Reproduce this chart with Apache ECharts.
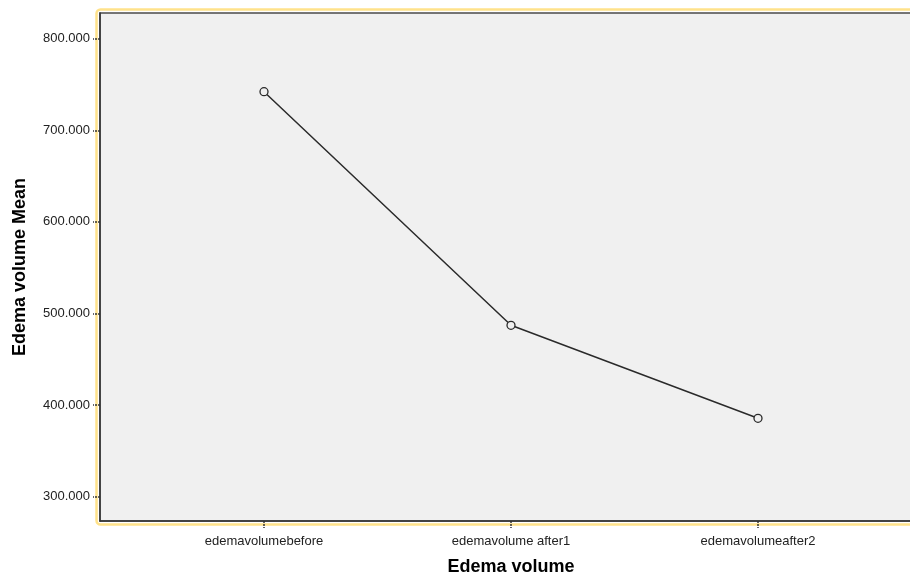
<!DOCTYPE html>
<html>
<head>
<meta charset="utf-8">
<script src="https://cdn.jsdelivr.net/npm/echarts@6/dist/echarts.min.js"></script>
<style>html,body{margin:0;padding:0;background:#fff}#c{width:910px;height:576px}</style>
</head>
<body>
<div id="c"></div>
<script>
var categories = ['edemavolumebefore', 'edemavolume after1', 'edemavolumeafter2'];
var meanValues = [742.1, 487.1, 385.6];
var yTicks = [300, 400, 500, 600, 700, 800];

var chart = echarts.init(document.getElementById('c'));
var font = 'Liberation Sans, Arial, sans-serif';
chart.setOption({
  animation: false,
  backgroundColor: '#ffffff',
  graphic: [{
    type: 'rect',
    shape: {x: 96.5, y: 9.5, width: 830, height: 515, r: 4},
    style: {fill: 'none', stroke: '#ffe28a', lineWidth: 2.5},
    z: -1
  }],
  grid: {
    left: 100, top: 13, right: -12, bottom: 55,
    outerBoundsMode: 'none', containLabel: false,
    show: true, backgroundColor: '#f0f0f0', borderColor: '#4a4a4a', borderWidth: 1.5
  },
  xAxis: {
    type: 'value',
    min: -0.664, max: 2.664,
    name: 'Edema volume',
    nameLocation: 'middle',
    nameGap: 37,
    nameTextStyle: {fontFamily: font, fontSize: 18, fontWeight: 'bold', color: '#000'},
    axisLine: {show: true, onZero: false, lineStyle: {color: '#333', width: 1.5}},
    splitLine: {show: false},
    axisTick: {show: true, customValues: [0, 1, 2], length: 7, inside: false, lineStyle: {color: '#333', width: 1.5, type: [2, 1]}},
    axisLabel: {
      customValues: [0, 1, 2],
      formatter: function (v) { return categories[Math.round(v)]; },
      fontFamily: font, fontSize: 13, color: '#222', margin: 14
    }
  },
  yAxis: {
    type: 'value',
    min: 273.5, max: 828,
    name: 'Edema volume Mean',
    nameLocation: 'middle',
    nameGap: 71,
    nameTextStyle: {fontFamily: font, fontSize: 18, fontWeight: 'bold', color: '#000'},
    axisLine: {show: true, onZero: false, lineStyle: {color: '#333', width: 1.5}},
    splitLine: {show: false},
    axisTick: {show: true, customValues: yTicks, length: 7, lineStyle: {color: '#333', width: 1.5, type: [2, 1]}},
    axisLabel: {
      customValues: yTicks,
      formatter: function (v) { return v.toFixed(3); },
      fontFamily: font, fontSize: 13, color: '#222', margin: 10
    }
  },
  series: [{
    type: 'line',
    data: meanValues.map(function (v, i) { return [i, v]; }),
    symbol: 'circle',
    symbolSize: 8,
    lineStyle: {color: '#2a2a2a', width: 1.5},
    itemStyle: {color: '#f0f0f0', borderColor: '#2a2a2a', borderWidth: 1.3}
  }]
});
</script>
</body>
</html>
